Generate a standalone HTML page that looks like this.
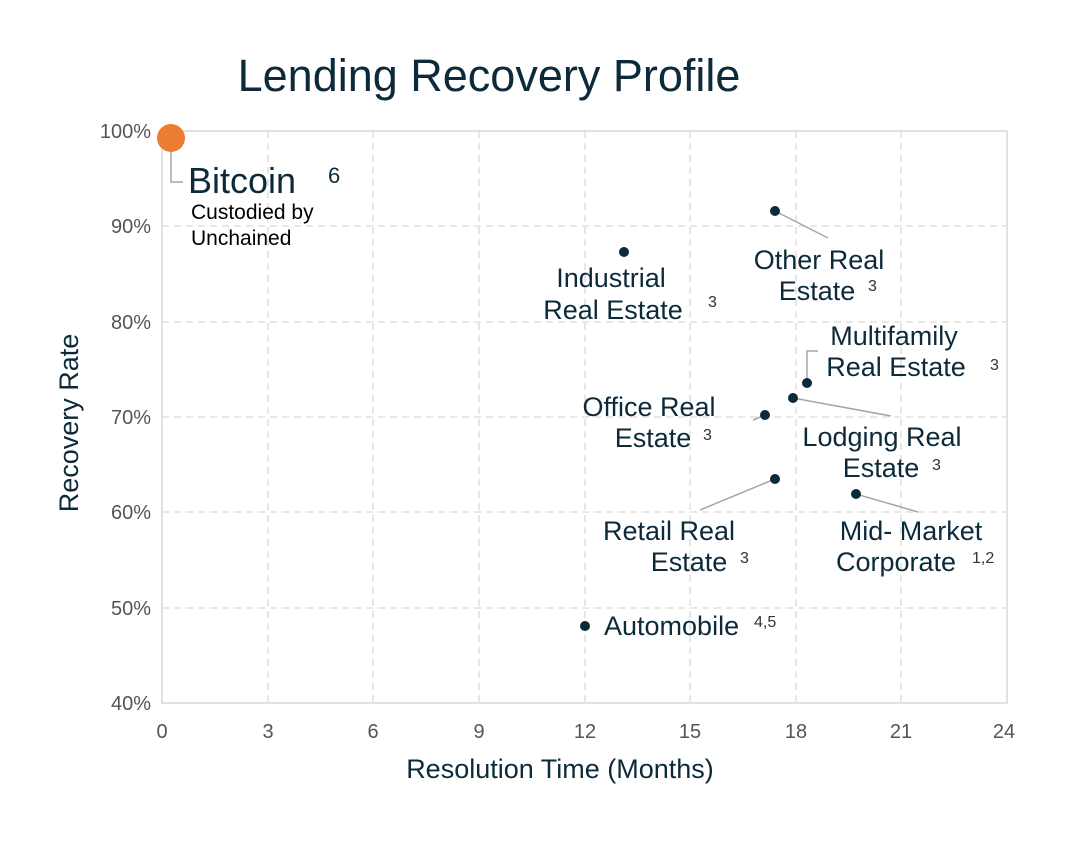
<!DOCTYPE html>
<html><head><meta charset="utf-8"><style>
html,body{margin:0;padding:0;background:#fff;}
svg text{font-family:"Liberation Sans",Arial,sans-serif;}
</style></head><body>
<svg width="1077" height="840" viewBox="0 0 1077 840" xmlns="http://www.w3.org/2000/svg">
<rect width="1077" height="840" fill="#fff"/>
<text x="489" y="91" font-size="45" fill="#0d2a3a" text-anchor="middle">Lending Recovery Profile</text>
<g stroke="#d9d9d9" stroke-width="1.3" stroke-dasharray="7,5" fill="none">
<line x1="268" y1="131" x2="268" y2="703"/><line x1="373" y1="131" x2="373" y2="703"/>
<line x1="479" y1="131" x2="479" y2="703"/><line x1="585" y1="131" x2="585" y2="703"/>
<line x1="690" y1="131" x2="690" y2="703"/><line x1="796" y1="131" x2="796" y2="703"/>
<line x1="901" y1="131" x2="901" y2="703"/>
<line x1="162" y1="226" x2="1007" y2="226"/><line x1="162" y1="322" x2="1007" y2="322"/>
<line x1="162" y1="417" x2="1007" y2="417"/><line x1="162" y1="512" x2="1007" y2="512"/>
<line x1="162" y1="608" x2="1007" y2="608"/>
</g>
<rect x="162" y="131" width="845" height="572" fill="none" stroke="#d9d9d9" stroke-width="1.5"/>
<g font-size="20" fill="#555" text-anchor="end">
<text x="151" y="138">100%</text><text x="151" y="233">90%</text><text x="151" y="329">80%</text>
<text x="151" y="424">70%</text><text x="151" y="519">60%</text><text x="151" y="615">50%</text>
<text x="151" y="710">40%</text></g>
<g font-size="20" fill="#555" text-anchor="middle">
<text x="162" y="738">0</text><text x="268" y="738">3</text><text x="373" y="738">6</text>
<text x="479" y="738">9</text><text x="585" y="738">12</text><text x="690" y="738">15</text>
<text x="796" y="738">18</text><text x="901" y="738">21</text><text x="1004" y="738">24</text></g>
<text x="560" y="778" font-size="27" fill="#0d2a3a" text-anchor="middle">Resolution Time (Months)</text>
<text transform="translate(78,423) rotate(-90)" font-size="27" fill="#0d2a3a" text-anchor="middle">Recovery Rate</text>
<g stroke="#a6a6a6" stroke-width="1.5" fill="none">
<polyline points="171,138 171,182 183,182"/>
<line x1="775" y1="211" x2="828" y2="238"/>
<polyline points="807,383 807,351 818,351"/>
<line x1="793" y1="398" x2="891" y2="416"/>
<line x1="765" y1="415" x2="753" y2="420"/>
<line x1="775" y1="479" x2="700" y2="510"/>
<line x1="856" y1="494" x2="918" y2="512"/>
</g>
<circle cx="171" cy="138" r="14" fill="#ED7D31"/>
<g fill="#0d2a3a">
<circle cx="624" cy="252" r="5"/><circle cx="775" cy="211" r="5"/><circle cx="807" cy="383" r="5"/>
<circle cx="793" cy="398" r="5"/><circle cx="765" cy="415" r="5"/><circle cx="775" cy="479" r="5"/>
<circle cx="856" cy="494" r="5"/><circle cx="585" cy="626" r="5"/>
</g>
<g font-size="27" fill="#0d2a3a">
<text x="188" y="193" font-size="36">Bitcoin</text>
<text x="328" y="183" font-size="22">6</text>
<text x="611" y="287" text-anchor="middle">Industrial</text>
<text x="613" y="319" text-anchor="middle">Real Estate</text>
<text x="819" y="269" text-anchor="middle">Other Real</text>
<text x="817" y="300" text-anchor="middle">Estate</text>
<text x="894" y="345" text-anchor="middle">Multifamily</text>
<text x="896" y="376" text-anchor="middle">Real Estate</text>
<text x="649" y="416" text-anchor="middle">Office Real</text>
<text x="653" y="447" text-anchor="middle">Estate</text>
<text x="882" y="446" text-anchor="middle">Lodging Real</text>
<text x="881" y="477" text-anchor="middle">Estate</text>
<text x="669" y="540" text-anchor="middle">Retail Real</text>
<text x="689" y="571" text-anchor="middle">Estate</text>
<text x="911" y="540" text-anchor="middle">Mid- Market</text>
<text x="896" y="571" text-anchor="middle">Corporate</text>
<text x="604" y="635">Automobile</text>
</g>
<g font-size="21" fill="#000">
<text x="191" y="219">Custodied by</text><text x="191" y="245">Unchained</text>
</g>
<g font-size="16" fill="#333">
<text x="708" y="307">3</text><text x="868" y="291">3</text><text x="990" y="370">3</text>
<text x="703" y="440">3</text><text x="932" y="470">3</text><text x="740" y="563">3</text>
<text x="972" y="563">1,2</text><text x="754" y="627">4,5</text>
</g>
</svg>
</body></html>
